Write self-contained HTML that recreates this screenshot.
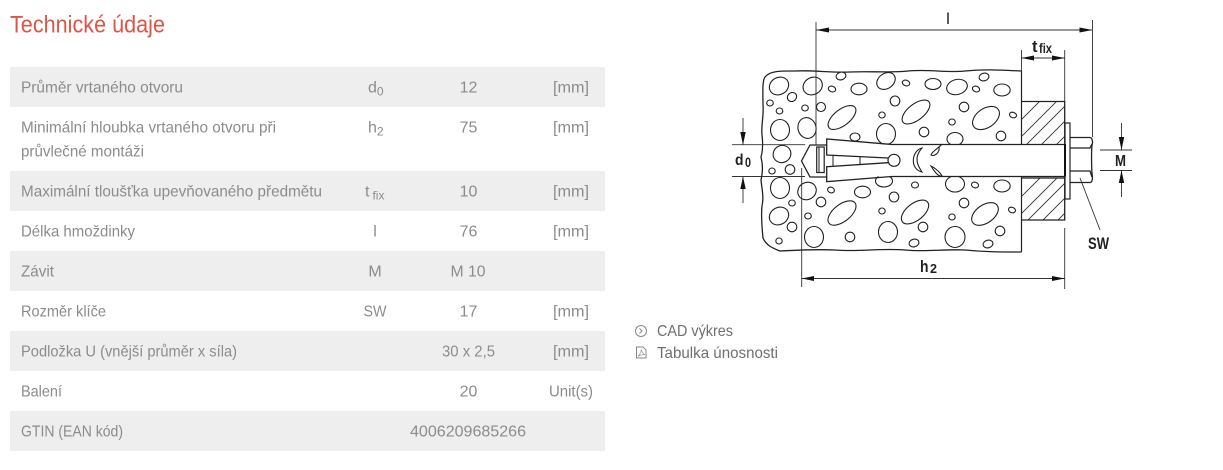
<!DOCTYPE html>
<html><head><meta charset="utf-8"><style>
html,body{margin:0;padding:0;background:#fff;width:1223px;height:470px;overflow:hidden}
svg{display:block}
.t{font-family:"Liberation Sans",sans-serif;font-size:16px;fill:#8c8c8c}
.c{text-anchor:middle}
.b ellipse{fill:#fff;stroke:#222;stroke-width:1.1}
.k{stroke:#222;fill:none}
.lb{font-family:"Liberation Sans",sans-serif;font-weight:bold;fill:#222}
</style></head><body>
<svg width="1223" height="470" viewBox="0 0 1223 470" xmlns="http://www.w3.org/2000/svg">
<rect width="1223" height="470" fill="#fff"/>
<text x="10" y="32.500" font-family="'Liberation Sans',sans-serif" font-size="24" fill="#dc5548" textLength="155" lengthAdjust="spacingAndGlyphs">Technické údaje</text>

<g fill="#eeeeee">
<rect x="10" y="67" width="595" height="40"/>
<rect x="10" y="171" width="595" height="40"/>
<rect x="10" y="251" width="595" height="40"/>
<rect x="10" y="331" width="595" height="40"/>
<rect x="10" y="411" width="595" height="40"/>
</g>
<g class="t">
<text x="21" y="92.500" textLength="162" lengthAdjust="spacingAndGlyphs">Průměr vrtaného otvoru</text>
<text x="21" y="132.500" textLength="255" lengthAdjust="spacingAndGlyphs">Minimální hloubka vrtaného otvoru při</text>
<text x="21" y="156.500" textLength="123" lengthAdjust="spacingAndGlyphs">průvlečné montáži</text>
<text x="21" y="196.500" textLength="301" lengthAdjust="spacingAndGlyphs">Maximální tloušťka upevňovaného předmětu</text>
<text x="21" y="236.500" textLength="114" lengthAdjust="spacingAndGlyphs">Délka hmoždinky</text>
<text x="21" y="276.500" textLength="33" lengthAdjust="spacingAndGlyphs">Závit</text>
<text x="21" y="316.500" textLength="85" lengthAdjust="spacingAndGlyphs">Rozměr klíče</text>
<text x="21" y="356.500" textLength="216" lengthAdjust="spacingAndGlyphs">Podložka U (vnější průměr x síla)</text>
<text x="21" y="396.500" textLength="41" lengthAdjust="spacingAndGlyphs">Balení</text>
<text x="21" y="436.500" textLength="102" lengthAdjust="spacingAndGlyphs">GTIN (EAN kód)</text>

<text x="368" y="92.500">d<tspan font-size="12" dy="3">0</tspan></text>
<text x="368" y="132.500">h<tspan font-size="12" dy="3">2</tspan></text>
<text x="365" y="196.500">t<tspan font-size="12" dx="3" dy="3">fix</tspan></text>
<text x="375" y="236.500" class="c">l</text>
<text x="375" y="276.500" class="c">M</text>
<text x="375" y="316.500" class="c" textLength="23" lengthAdjust="spacingAndGlyphs">SW</text>

<text x="468.500" y="92.500" class="c">12</text>
<text x="468.500" y="132.500" class="c">75</text>
<text x="468.500" y="196.500" class="c">10</text>
<text x="468.500" y="236.500" class="c">76</text>
<text x="468" y="276.500" class="c" textLength="35" lengthAdjust="spacingAndGlyphs">M 10</text>
<text x="468.500" y="316.500" class="c">17</text>
<text x="442" y="356.500" textLength="53" lengthAdjust="spacingAndGlyphs">30 x 2,5</text>
<text x="468.500" y="396.500" class="c">20</text>
<text x="410" y="436.500" textLength="116" lengthAdjust="spacingAndGlyphs">4006209685266</text>

<text x="553" y="92.500" textLength="36" lengthAdjust="spacingAndGlyphs">[mm]</text>
<text x="553" y="132.500" textLength="36" lengthAdjust="spacingAndGlyphs">[mm]</text>
<text x="553" y="196.500" textLength="36" lengthAdjust="spacingAndGlyphs">[mm]</text>
<text x="553" y="236.500" textLength="36" lengthAdjust="spacingAndGlyphs">[mm]</text>
<text x="553" y="316.500" textLength="36" lengthAdjust="spacingAndGlyphs">[mm]</text>
<text x="553" y="356.500" textLength="36" lengthAdjust="spacingAndGlyphs">[mm]</text>
<text x="549" y="396.500" textLength="44" lengthAdjust="spacingAndGlyphs">Unit(s)</text>
</g>

<!-- links -->
<circle cx="641" cy="331" r="5.500" fill="none" stroke="#888" stroke-width="1"/>
<path d="M639.500 328.500L642 331L639.500 333.500" fill="none" stroke="#888"/>
<path d="M636.500 347H643L646 350V358H636.500Z" fill="none" stroke="#888"/>
<path d="M638 356.500C640 354 641.500 351 641 349.500C642 352 643 354 645 354.500C642.500 354.500 640 355 638 356.500Z" fill="none" stroke="#999" stroke-width=".7"/>
<text x="657" y="336" font-family="'Liberation Sans',sans-serif" font-size="16" fill="#6f6f6f" textLength="76" lengthAdjust="spacingAndGlyphs">CAD výkres</text>
<text x="657" y="358" font-family="'Liberation Sans',sans-serif" font-size="16" fill="#6f6f6f" textLength="121" lengthAdjust="spacingAndGlyphs">Tabulka únosnosti</text>

<!-- concrete outline -->
<path class="k" stroke-width="1.300" d="M1021.500 71C1000 70 985 69 965 71C945 73 930 69 908 71C888 73 870 71 850 72C830 73 815 70 795 71C785 71 770 70 765 77C762 81 763 95 763 105C764 115 761 125 762 135C763 143 763 150 761 157C763 165 763 172 761 180C762 190 764 197 762 206C761 215 762 228 763 238C766 245 772 248 780 251C800 250 815 249 835 250C860 252 880 248 905 250C925 252 945 249 965 250C985 252 1000 252 1021.500 252"/>

<g class="b">
<ellipse cx="779" cy="86" rx="10" ry="8.500" transform="rotate(-30 779 86)"/>
<ellipse cx="812.700" cy="86" rx="10" ry="8.500" transform="rotate(-30 812.700 86)"/>
<ellipse cx="841" cy="76" rx="5" ry="3.800" transform="rotate(-15 841 76)"/>
<ellipse cx="832" cy="89" rx="3.800" ry="2.800" transform="rotate(20 832 89)"/>
<ellipse cx="859" cy="89" rx="8" ry="5.800"/>
<ellipse cx="886" cy="81" rx="10" ry="7.500" transform="rotate(-35 886 81)"/>
<ellipse cx="906" cy="83" rx="3.800" ry="2.800" transform="rotate(20 906 83)"/>
<ellipse cx="933" cy="84" rx="8" ry="5.500"/>
<ellipse cx="957" cy="87" rx="10.500" ry="7.500" transform="rotate(-15 957 87)"/>
<ellipse cx="792" cy="97" rx="4.800" ry="4.300" transform="rotate(-40 792 97)"/>
<ellipse cx="770" cy="103" rx="3.300" ry="3"/>
<ellipse cx="779.500" cy="111" rx="3.300" ry="3"/>
<ellipse cx="805" cy="108" rx="3.300" ry="3"/>
<ellipse cx="821" cy="107" rx="4.500" ry="4.500"/>
<ellipse cx="842" cy="117.500" rx="16.500" ry="8" transform="rotate(-38 842 117.500)"/>
<ellipse cx="882" cy="115" rx="3.200" ry="3"/>
<ellipse cx="895" cy="101" rx="4.800" ry="5"/>
<ellipse cx="916" cy="112" rx="16.500" ry="8" transform="rotate(-38 916 112)"/>
<ellipse cx="952" cy="122" rx="3.300" ry="3"/>
<ellipse cx="924" cy="132" rx="4.800" ry="4.800"/>
<ellipse cx="780" cy="130" rx="9.500" ry="10.500"/>
<ellipse cx="807" cy="128" rx="9" ry="10.500" transform="rotate(-15 807 128)"/>
<ellipse cx="855" cy="137" rx="5" ry="4"/>
<ellipse cx="886" cy="134" rx="9.500" ry="10.500"/>
<ellipse cx="955" cy="139" rx="8" ry="6.500"/>
<ellipse cx="984" cy="77" rx="5" ry="3.800" transform="rotate(-15 984 77)"/>
<ellipse cx="976" cy="89" rx="3.700" ry="2.800" transform="rotate(20 976 89)"/>
<ellipse cx="1002" cy="90" rx="8.200" ry="6"/>
<ellipse cx="964" cy="107" rx="4.800" ry="4.800"/>
<ellipse cx="986" cy="118" rx="15" ry="9.500" transform="rotate(-35 986 118)"/>
<ellipse cx="1013" cy="115" rx="3.600" ry="2.700" transform="rotate(20 1013 115)"/>
<ellipse cx="1001" cy="136" rx="4.800" ry="4.800"/>
<ellipse cx="782" cy="154" rx="9" ry="8.500" transform="rotate(-30 782 154)"/>
<ellipse cx="772" cy="171" rx="3.200" ry="3"/>
<ellipse cx="790" cy="169.500" rx="4.800" ry="4.800"/>
<ellipse cx="780" cy="188" rx="9.500" ry="10.500"/>
<ellipse cx="807" cy="191" rx="9.500" ry="8.500" transform="rotate(-30 807 191)"/>
<ellipse cx="831" cy="190" rx="3.500" ry="2.800" transform="rotate(20 831 190)"/>
<ellipse cx="862.500" cy="192" rx="8" ry="5.800"/>
<ellipse cx="884" cy="181" rx="8.500" ry="6"/>
<ellipse cx="915" cy="185" rx="3.500" ry="3"/>
<ellipse cx="955" cy="184" rx="9.500" ry="8"/>
<ellipse cx="975" cy="185" rx="3.600" ry="2.800" transform="rotate(20 975 185)"/>
<ellipse cx="1002" cy="186" rx="8.200" ry="6"/>
<ellipse cx="792" cy="203" rx="3.300" ry="3"/>
<ellipse cx="821" cy="202" rx="4.800" ry="4.800"/>
<ellipse cx="894" cy="197" rx="4.800" ry="5"/>
<ellipse cx="842" cy="213" rx="16.500" ry="8.500" transform="rotate(-38 842 213)"/>
<ellipse cx="882" cy="211" rx="3.200" ry="3"/>
<ellipse cx="915" cy="212" rx="16" ry="8.500" transform="rotate(-38 915 212)"/>
<ellipse cx="952" cy="217" rx="3.200" ry="3"/>
<ellipse cx="964" cy="203" rx="4.800" ry="4.800"/>
<ellipse cx="985" cy="214" rx="15" ry="9" transform="rotate(-35 985 214)"/>
<ellipse cx="1012" cy="210" rx="3.600" ry="2.700" transform="rotate(20 1012 210)"/>
<ellipse cx="779" cy="216" rx="10" ry="8.500" transform="rotate(-30 779 216)"/>
<ellipse cx="808" cy="216" rx="3.300" ry="3"/>
<ellipse cx="792" cy="227" rx="4.800" ry="4.800"/>
<ellipse cx="814" cy="237" rx="9.500" ry="10.500"/>
<ellipse cx="850" cy="237" rx="4.800" ry="4.800"/>
<ellipse cx="888" cy="232" rx="9.500" ry="10.500"/>
<ellipse cx="923" cy="227" rx="4.800" ry="4.800"/>
<ellipse cx="955" cy="237" rx="10" ry="10.500"/>
<ellipse cx="779" cy="241" rx="3.200" ry="3"/>
<ellipse cx="914" cy="243" rx="5" ry="3.800" transform="rotate(-15 914 243)"/>
<ellipse cx="1000" cy="231" rx="4.800" ry="4.800"/>
<ellipse cx="988" cy="244" rx="5" ry="3.800" transform="rotate(-15 988 244)"/>
</g>

<!-- hole / bolt white band -->
<path d="M812 144.500H1066V176.500H812L802 161Z" fill="#fff"/>
<rect x="1021.500" y="60" width="60" height="200" fill="#fff"/>

<!-- concrete right edge -->
<path class="k" stroke-width="1.200" d="M1021.500 71V144.500M1021.500 176.500V252"/>

<!-- fixture hatched -->
<clipPath id="h1"><rect x="1021.500" y="101.500" width="43" height="43"/></clipPath>
<clipPath id="h2"><rect x="1021.500" y="178" width="43" height="42"/></clipPath>
<g clip-path="url(#h1)" stroke="#333" stroke-width=".9">
<path d="M1015 126L1045 96M1015 143L1062 96M1025 146L1075 96M1040 146L1085 101M1055 146L1085 116"/>
</g>
<g clip-path="url(#h2)" stroke="#333" stroke-width=".9">
<path d="M1015 203L1045 173M1015 220L1062 173M1025 223L1075 173M1040 223L1085 178M1055 223L1085 193"/>
</g>
<path class="k" stroke-width="1.300" d="M1021.500 101.500H1064.700V220H1021.500M1021.500 178H1064.700"/>

<!-- anchor -->
<path class="k" stroke-width="1.300" d="M1065 144.500H892L826.700 139V155L888 158M1065 176.500H892L826.700 181.700V166.700L888 162.700"/>
<path class="k" stroke-width="1.300" d="M826.700 145H810L801.500 161L810 177H826.700"/>
<rect x="816.700" y="147" width="7.500" height="25.500" fill="#fff" stroke="#222" stroke-width="1.200"/>
<path class="k" stroke-width="1" d="M819 147V172.500M833 156V166M860 157V165"/>
<circle cx="894" cy="160.300" r="6" fill="#fff" stroke="#222" stroke-width="1.200"/>
<path class="k" stroke-width="1.100" d="M922 148C912 150 909 169 922 172C918 166 913 158 922 148Z"/>
<path class="k" stroke-width="1.100" d="M942 144C939 148 932 151 931 155C935 157 940 152 939 147M931 166C935 168 940 172 942 176C938 177 934 171 931 166Z"/>

<!-- washer, nut -->
<rect x="1065" y="123" width="5" height="76" fill="#fff" stroke="#222" stroke-width="1.200"/>
<path d="M1065 144V176.500" stroke="#111" stroke-width="2"/>
<path class="k" stroke-width="1.300" d="M1070 137.500H1090C1092.500 137.500 1092.500 141 1092.500 143C1091 148 1091.500 172 1092.500 177C1092.500 180 1092 182.500 1090 182.500H1070M1070 148H1090L1092 144M1070 171H1090L1092 177"/>

<!-- dimensions -->
<g stroke="#333" stroke-width=".9" fill="none">
<path d="M816 22V145M816 30H1092.500M1092.500 20V137"/>
<path d="M1021.500 50V71M1064.700 50V101.500M1021.500 58H1064.700"/>
<path d="M732 144.700H805M732 176.500H805M743 118V145M743 176V203"/>
<path d="M801.700 168V287M1064.700 228V289M801.700 278.500H1064.700"/>
<path d="M1100 150H1132M1100 170.500H1132M1121.500 123V150M1121.500 170V197"/>
<path d="M1080 178L1100 230"/>
</g>
<g fill="#111">
<path d="M816 30L829 27.500V32.500Z"/><path d="M1092.500 30L1079.500 27.500V32.500Z"/>
<path d="M1021.500 58L1034 55.500V60.500Z"/><path d="M1064.700 58L1052 55.500V60.500Z"/>
<path d="M743 145L740.300 132H745.700Z"/><path d="M743 176.500L740.300 189H745.700Z"/>
<path d="M801.700 278.500L814 276V281Z"/><path d="M1064.700 278.500L1052 276V281Z"/>
<path d="M1121.500 150L1118.800 137H1124.200Z"/><path d="M1121.500 170.500L1118.800 183H1124.200Z"/>
</g>

<!-- labels -->
<text x="946.500" y="24" class="lb" font-size="16" textLength="3" lengthAdjust="spacingAndGlyphs">l</text>
<text x="1032" y="52" class="lb" font-size="17" textLength="5.500" lengthAdjust="spacingAndGlyphs">t</text>
<text x="1039" y="53" class="lb" font-size="14" textLength="13" lengthAdjust="spacingAndGlyphs">fix</text>
<text x="735" y="165" class="lb" font-size="16" textLength="8.500" lengthAdjust="spacingAndGlyphs">d</text>
<text x="745" y="167" class="lb" font-size="14" textLength="6" lengthAdjust="spacingAndGlyphs">0</text>
<text x="920" y="272" class="lb" font-size="17" textLength="8.500" lengthAdjust="spacingAndGlyphs">h</text>
<text x="930" y="273" class="lb" font-size="13" textLength="7" lengthAdjust="spacingAndGlyphs">2</text>
<text x="1115" y="166" class="lb" font-size="15.500" textLength="11" lengthAdjust="spacingAndGlyphs">M</text>
<text x="1088" y="249" class="lb" font-size="17" textLength="21" lengthAdjust="spacingAndGlyphs">SW</text>
</svg>
</body></html>
